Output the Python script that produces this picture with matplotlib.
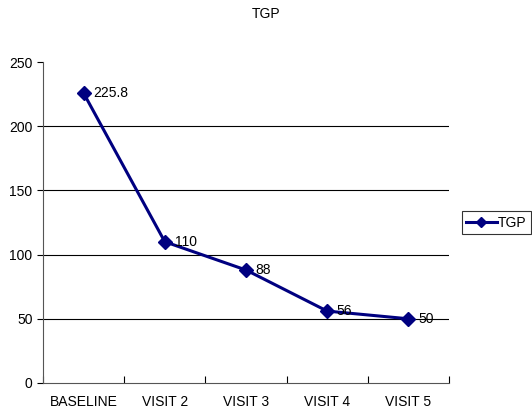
import matplotlib
matplotlib.use('Agg')
import matplotlib.pyplot as plt
from matplotlib.lines import Line2D

plt.rcParams['font.family'] = ['Liberation Sans', 'DejaVu Sans']

# data
visits = ['BASELINE', 'VISIT 2', 'VISIT 3', 'VISIT 4', 'VISIT 5']
tgp = [225.8, 110, 88, 56, 50]
labels = ['225.8', '110', '88', '56', '50']

fig = plt.figure(figsize=(5.32, 4.12), dpi=100)
ax = fig.add_axes([0.0808, 0.0704, 0.7632, 0.7791])

x = list(range(len(visits)))
ax.plot(x, tgp, color='#000080', lw=2.2, marker='D', markersize=7,
        zorder=3)
for xi, yi, lab in zip(x, tgp, labels):
    ax.annotate(lab, (xi, yi), xytext=(7, 0), textcoords='offset points',
                va='center', ha='left', fontsize=10, color='black')

ax.set_xlim(-0.5, 4.5)
ax.set_ylim(0, 250)
ax.set_yticks([0, 50, 100, 150, 200, 250])
ax.set_xticks([i + 0.5 for i in range(-1, 5)])
ax.set_xticklabels([''] * 6)
ax.set_xticks(x, minor=True)
ax.set_xticklabels(visits, minor=True)
ax.tick_params(axis='x', which='minor', length=0, labelsize=10, pad=9)
ax.tick_params(axis='x', which='major', length=5, direction='in', width=0.8)
ax.tick_params(axis='y', length=4, width=0.8, labelsize=10, direction='out')

for v in [50, 100, 150, 200]:
    ax.axhline(v, color='black', lw=0.8, zorder=1)

ax.spines['top'].set_visible(False)
ax.spines['right'].set_visible(False)
ax.spines['left'].set_color('#555555')
ax.spines['bottom'].set_color('#555555')

fig.text(0.5, 0.965, 'TGP', ha='center', va='center', fontsize=10)

handle = Line2D([], [], color='#000080', lw=2.2, marker='D', markersize=5)
leg = ax.legend([handle], ['TGP'], loc='center left',
                bbox_to_anchor=(1.032, 0.50), fontsize=10,
                frameon=True, fancybox=False, edgecolor='black',
                handlelength=2.2, borderpad=0.3, handletextpad=0.1,
                borderaxespad=0)
leg.get_frame().set_linewidth(0.8)

fig.savefig('out.png', dpi=100)
